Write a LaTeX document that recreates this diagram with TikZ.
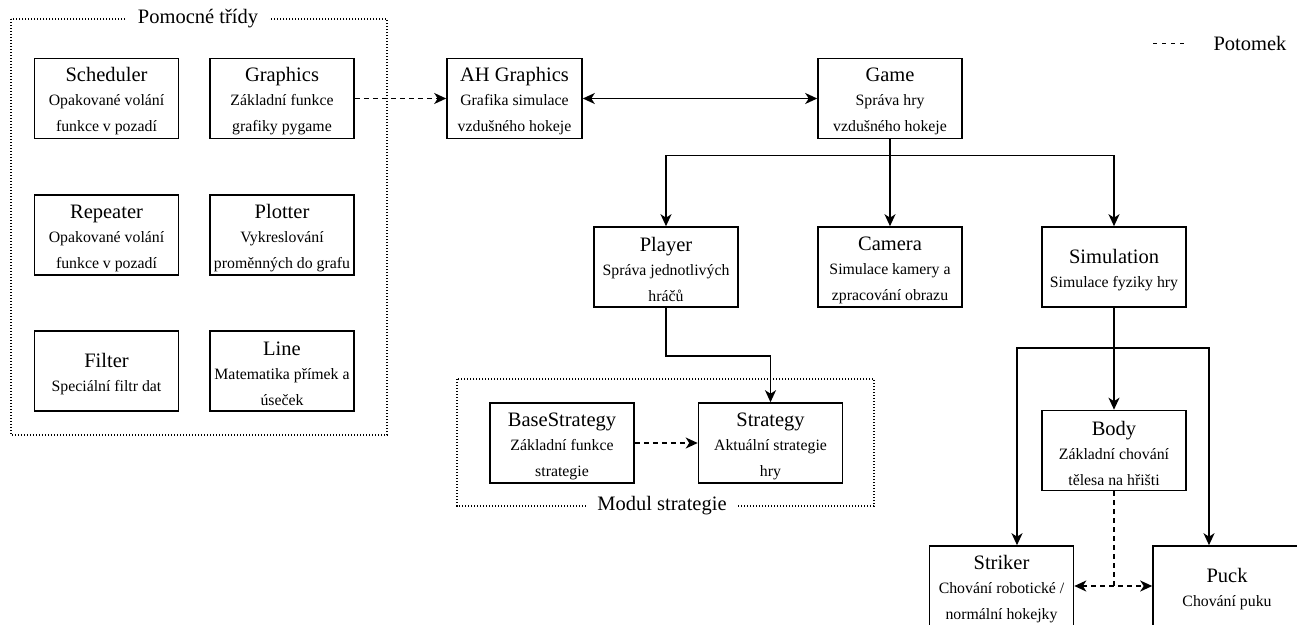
\documentclass[tikz,border=0pt]{standalone}
\usepackage{fontspec}
\setmainfont{Liberation Serif}
\newfontfamily\diagfont{Liberation Serif}
\usetikzlibrary{arrows.meta}

% class title line (larger type, with a strut to push the block down a bit)
\newcommand{\clstitle}[1]{{\diagfont\fontsize{20.5}{24}\selectfont\rule{0pt}{20pt}#1}}

\tikzset{
  cls/.style={draw, line width=1.6pt, minimum width=144pt, minimum height=80pt,
              inner sep=0pt, align=center, font=\diagfont\fontsize{15.8}{26}\selectfont},
  tip/.tip={Stealth[length=12pt,width=11pt,inset=3.5pt]},
  link/.style={line width=1.6pt, -tip},
  twoway/.style={line width=1.6pt, tip-tip},
  derive/.style={link, dash pattern=on 5pt off 4pt},
  derivetwo/.style={twoway, dash pattern=on 5pt off 4pt},
  dashline/.style={line width=1.6pt, dash pattern=on 5pt off 4pt},
  group/.style={line width=1.2pt, dash pattern=on 1.2pt off 1.8pt},
  grouptitle/.style={fill=white, inner xsep=11pt, inner ysep=4pt,
                     font=\diagfont\fontsize{20.5}{24}\selectfont},
}

\begin{document}
\begin{tikzpicture}[x=1pt, y=-1pt]
  \useasboundingbox (0,0) rectangle (1297,624);

  % helper classes group
  \draw[group] (11,19) rectangle (387,435);
  \node[grouptitle] (helpers) at (198,19) {Pomocné třídy};

  \node[cls] (scheduler) at (106.5,98.5) {\clstitle{Scheduler}\\[-2pt]Opakované volání\\funkce v pozadí};
  \node[cls] (graphics)  at (282,98.5)   {\clstitle{Graphics}\\[-2pt]Základní funkce\\grafiky pygame};
  \node[cls] (repeater)  at (106.5,235)  {\clstitle{Repeater}\\[-2pt]Opakované volání\\funkce v pozadí};
  \node[cls] (plotter)   at (282,235)    {\clstitle{Plotter}\\[-2pt]Vykreslování\\proměnných do grafu};
  \node[cls] (filter)    at (106.5,371)  {\clstitle{Filter}\\[-2pt]Speciální filtr dat};
  \node[cls] (line)      at (282,371)    {\clstitle{Line}\\[-2pt]Matematika přímek a\\úseček};

  % main classes
  \node[cls, minimum width=135pt] (ahgraphics) at (514.5,98.5) {\clstitle{AH Graphics}\\[-2pt]Grafika simulace\\vzdušného hokeje};
  \node[cls] (game)       at (890,98.5)  {\clstitle{Game}\\[-2pt]Správa hry\\vzdušného hokeje};
  \node[cls] (player)     at (666,267)   {\clstitle{Player}\\[-2pt]Správa jednotlivých\\hráčů};
  \node[cls] (camera)     at (890,267)   {\clstitle{Camera}\\[-2pt]Simulace kamery a\\zpracování obrazu};
  \node[cls] (simulation) at (1114,267)  {\clstitle{Simulation}\\[-2pt]Simulace fyziky hry};

  % strategy module
  \draw[group] (457,379) rectangle (874,506);
  \node[grouptitle] (stratmod) at (662,506) {Modul strategie};
  \node[cls] (basestrategy) at (562,443)   {\clstitle{BaseStrategy}\\[-2pt]Základní funkce\\strategie};
  \node[cls] (strategy)     at (770.5,443) {\clstitle{Strategy}\\[-2pt]Aktuální strategie\\hry};

  % physics bodies
  \node[cls] (body)    at (1114,450.5) {\clstitle{Body}\\[-2pt]Základní chování\\tělesa na hřišti};
  \node[cls] (striker) at (1001.5,586) {\clstitle{Striker}\\[-2pt]Chování robotické /\\normální hokejky};
  \node[cls, minimum width=148pt] (puck) at (1227,586) {\clstitle{Puck}\\[-2pt]Chování puku};

  % connectors
  \draw[derive] (graphics.east) -- (ahgraphics.west);
  \draw[twoway] (ahgraphics.east) -- (game.west);
  \draw[link] (game.south) -- ++(0,16) -| (player.north);
  \draw[link] (game.south) -- (camera.north);
  \draw[link] (game.south) -- ++(0,16) -| (simulation.north);
  \draw[link] (player.south) -- ++(0,48) -| (strategy.north);
  \draw[derive] (basestrategy.east) -- (strategy.west);
  \draw[link] (simulation.south) -- (body.north);
  \draw[link] (simulation.south) -- ++(0,40) -| ([xshift=15.5pt]striker.north);
  \draw[link] (simulation.south) -- ++(0,40) -| ([xshift=-18pt]puck.north);
  \draw[dashline] (body.south) -- (body.south |- striker.east);
  \draw[derivetwo] (striker.east) -- (puck.west);

  % legend
  \coordinate (legA) at (1153,43);
  \coordinate (legB) at (1186,43);
  \draw[line width=1pt, dash pattern=on 4pt off 5pt] (legA) -- (legB);
  \node[font=\diagfont\fontsize{20.5}{24}\selectfont] (legtext) at (1250,43) {Potomek};
\end{tikzpicture}
\end{document}
